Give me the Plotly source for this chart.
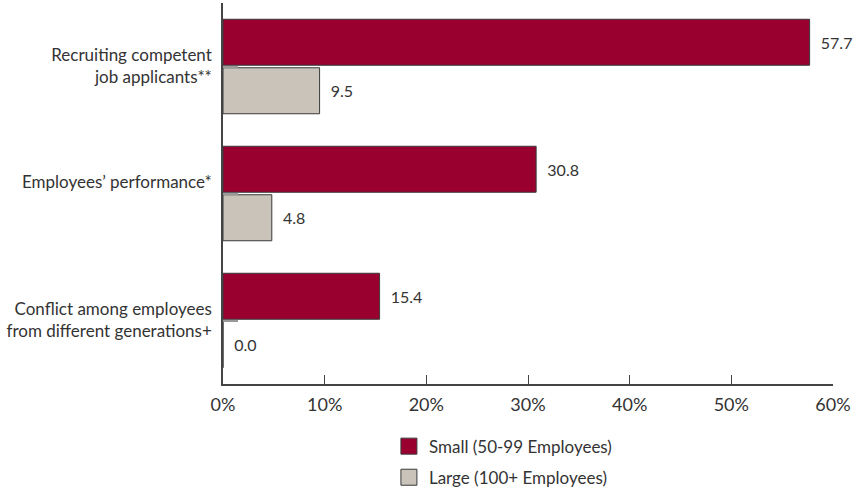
import plotly.graph_objects as go

categories = [
    "Recruiting competent<br>job applicants**",
    "Employees’ performance*<br>\u00a0",
    "Conflict among employees<br>from different generations+",
]
small_values = [57.7, 30.8, 15.4]
large_values = [9.5, 4.8, 0.0]
series_names = ["Small (50-99 Employees)", "Large (100+ Employees)"]
x_tick_values = [0, 10, 20, 30, 40, 50, 60]
x_tick_labels = ["0%", "10%", "20%", "30%", "40%", "50%", "60%"]

FONT = "Lato, 'Open Sans', sans-serif"
TEXT_COLOR = "#333333"
RED = "#990030"
GRAY = "#CAC3BA"
OUTLINE = "#3a3a3a"

fig = go.Figure()
series = [
    (series_names[0], small_values, RED, "a"),
    (series_names[1], large_values, GRAY, "b"),
]
for name, vals, color, grp in series:
    fig.add_trace(go.Bar(
        name=name,
        y=categories,
        x=vals,
        orientation="h",
        marker=dict(color=color, line=dict(color=OUTLINE, width=1)),
        text=[f"\u00a0\u00a0{v:.1f}" for v in vals],
        textposition="outside",
        textfont=dict(family=FONT, size=16, color=TEXT_COLOR),
        cliponaxis=False,
        legendgroup=grp,
        showlegend=False,
    ))
# legend entries (larger square swatches)
for name, vals, color, grp in series:
    fig.add_trace(go.Scatter(
        name=name, x=[None], y=[None], mode="markers",
        marker=dict(symbol="square", size=16, color=color,
                    line=dict(color=OUTLINE, width=1)),
        legendgroup=grp, showlegend=True, hoverinfo="skip",
    ))

fig.update_layout(
    width=853, height=487,
    margin=dict(l=223, r=20, t=3, b=103, autoexpand=False),
    paper_bgcolor="white", plot_bgcolor="white",
    barmode="group",
    bargap=0.236,
    bargroupgap=0.052,
    font=dict(family=FONT, size=17, color=TEXT_COLOR),
    showlegend=True,
    legend=dict(
        x=0.272, y=-0.117, xanchor="left", yanchor="top",
        orientation="v", tracegroupgap=6, itemsizing="trace",
        font=dict(family=FONT, size=17, color=TEXT_COLOR),
        bgcolor="rgba(0,0,0,0)",
    ),
)
fig.update_xaxes(
    range=[0, 60], tickvals=x_tick_values, ticktext=x_tick_labels,
    showgrid=False, zeroline=False,
    showline=True, linecolor="#444444", linewidth=1.5,
    ticks="inside", ticklen=9, tickcolor="#444444", tickwidth=1.2,
    ticklabelstandoff=4,
    tickfont=dict(family=FONT, size=18, color=TEXT_COLOR),
)
fig.update_yaxes(
    autorange=False, range=[2.5, -0.5],
    categoryorder="array", categoryarray=categories,
    showgrid=False, zeroline=False,
    showline=True, linecolor="#444444", linewidth=1.5,
    ticks="inside", ticklen=15, tickcolor="#9a9a9a", tickwidth=2,
    ticklabelstandoff=6,
    tickfont=dict(family=FONT, size=17, color=TEXT_COLOR),
)

fig.write_html("out.html", config={"displayModeBar": False},
               post_script="document.body.style.margin='0';")
